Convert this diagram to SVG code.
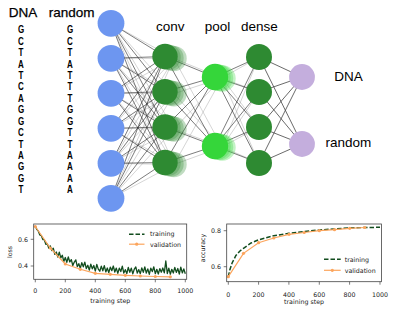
<svg xmlns="http://www.w3.org/2000/svg" width="394" height="315" viewBox="0 0 394 315">
<style>
.lbl{font-family:"Liberation Sans",Arial,sans-serif;font-size:13.5px;fill:#000}
.seq{font-family:"Liberation Sans",Arial,sans-serif;font-size:10px;font-weight:bold;fill:#000;text-anchor:middle}
.tk{font-family:"DejaVu Sans",sans-serif;font-size:6.3px;fill:#222}
.e1{stroke:#222;stroke-width:0.7;stroke-opacity:0.85}
.e2{stroke:#999;stroke-width:0.7;stroke-opacity:0.6}
.e3{stroke:#444;stroke-width:0.8}
.inp{fill:#6d96f0}
.cv{fill:#2e8a32}
.pl{fill:#35d63a}
.out{fill:#c4aedd}
.gh{fill-opacity:0.3}
.frame{fill:none;stroke:#444;stroke-width:0.8}
.tick{stroke:#444;stroke-width:0.7}
.tr{fill:none;stroke:#124d1e;stroke-width:1.3;stroke-linejoin:round}
.trd{fill:none;stroke:#124d1e;stroke-width:1.5;stroke-dasharray:4.5,2}
.va{fill:none;stroke:#fca55d;stroke-width:1.2}
.mk{fill:#fca55d}
</style>
<rect width="394" height="315" fill="#fff"/>

<g id="connectors">
<g class="e2">
<line x1="111" y1="23.3" x2="174" y2="58.5"/><line x1="111" y1="23.3" x2="174" y2="93.7"/><line x1="111" y1="23.3" x2="174" y2="129"/><line x1="111" y1="23.3" x2="174" y2="164.5"/>
<line x1="111" y1="58.3" x2="174" y2="58.5"/><line x1="111" y1="58.3" x2="174" y2="93.7"/><line x1="111" y1="58.3" x2="174" y2="129"/><line x1="111" y1="58.3" x2="174" y2="164.5"/>
<line x1="111" y1="93.3" x2="174" y2="58.5"/><line x1="111" y1="93.3" x2="174" y2="93.7"/><line x1="111" y1="93.3" x2="174" y2="129"/><line x1="111" y1="93.3" x2="174" y2="164.5"/>
<line x1="111" y1="128.3" x2="174" y2="58.5"/><line x1="111" y1="128.3" x2="174" y2="93.7"/><line x1="111" y1="128.3" x2="174" y2="129"/><line x1="111" y1="128.3" x2="174" y2="164.5"/>
<line x1="111" y1="163.3" x2="174" y2="58.5"/><line x1="111" y1="163.3" x2="174" y2="93.7"/><line x1="111" y1="163.3" x2="174" y2="129"/><line x1="111" y1="163.3" x2="174" y2="164.5"/>
<line x1="111" y1="198.3" x2="174" y2="58.5"/><line x1="111" y1="198.3" x2="174" y2="93.7"/><line x1="111" y1="198.3" x2="174" y2="129"/><line x1="111" y1="198.3" x2="174" y2="164.5"/>
<line x1="174" y1="58.5" x2="222" y2="78"/><line x1="174" y1="58.5" x2="222" y2="147"/>
<line x1="174" y1="93.7" x2="222" y2="78"/><line x1="174" y1="93.7" x2="222" y2="147"/>
<line x1="174" y1="129" x2="222" y2="78"/><line x1="174" y1="129" x2="222" y2="147"/>
<line x1="174" y1="164.5" x2="222" y2="78"/><line x1="174" y1="164.5" x2="222" y2="147"/>
<line x1="222" y1="78" x2="259" y2="57"/><line x1="222" y1="78" x2="259" y2="92"/><line x1="222" y1="78" x2="259" y2="127"/><line x1="222" y1="78" x2="259" y2="163"/>
<line x1="222" y1="147" x2="259" y2="57"/><line x1="222" y1="147" x2="259" y2="92"/><line x1="222" y1="147" x2="259" y2="127"/><line x1="222" y1="147" x2="259" y2="163"/>
</g>
<g class="e1">
<line x1="111" y1="23.3" x2="165" y2="56.5"/><line x1="111" y1="23.3" x2="165" y2="91.7"/><line x1="111" y1="23.3" x2="165" y2="127"/><line x1="111" y1="23.3" x2="165" y2="162.5"/>
<line x1="111" y1="58.3" x2="165" y2="56.5"/><line x1="111" y1="58.3" x2="165" y2="91.7"/><line x1="111" y1="58.3" x2="165" y2="127"/><line x1="111" y1="58.3" x2="165" y2="162.5"/>
<line x1="111" y1="93.3" x2="165" y2="56.5"/><line x1="111" y1="93.3" x2="165" y2="91.7"/><line x1="111" y1="93.3" x2="165" y2="127"/><line x1="111" y1="93.3" x2="165" y2="162.5"/>
<line x1="111" y1="128.3" x2="165" y2="56.5"/><line x1="111" y1="128.3" x2="165" y2="91.7"/><line x1="111" y1="128.3" x2="165" y2="127"/><line x1="111" y1="128.3" x2="165" y2="162.5"/>
<line x1="111" y1="163.3" x2="165" y2="56.5"/><line x1="111" y1="163.3" x2="165" y2="91.7"/><line x1="111" y1="163.3" x2="165" y2="127"/><line x1="111" y1="163.3" x2="165" y2="162.5"/>
<line x1="111" y1="198.3" x2="165" y2="56.5"/><line x1="111" y1="198.3" x2="165" y2="91.7"/><line x1="111" y1="198.3" x2="165" y2="127"/><line x1="111" y1="198.3" x2="165" y2="162.5"/>
<line x1="165" y1="56.5" x2="215" y2="77"/><line x1="165" y1="56.5" x2="215" y2="146"/>
<line x1="165" y1="91.7" x2="215" y2="77"/><line x1="165" y1="91.7" x2="215" y2="146"/>
<line x1="165" y1="127" x2="215" y2="77"/><line x1="165" y1="127" x2="215" y2="146"/>
<line x1="165" y1="162.5" x2="215" y2="77"/><line x1="165" y1="162.5" x2="215" y2="146"/>
<line x1="215" y1="77" x2="259" y2="57"/><line x1="215" y1="77" x2="259" y2="92"/><line x1="215" y1="77" x2="259" y2="127"/><line x1="215" y1="77" x2="259" y2="163"/>
<line x1="215" y1="146" x2="259" y2="57"/><line x1="215" y1="146" x2="259" y2="92"/><line x1="215" y1="146" x2="259" y2="127"/><line x1="215" y1="146" x2="259" y2="163"/>
</g>
<g class="e3">
<line x1="259" y1="57" x2="302" y2="77"/><line x1="259" y1="57" x2="302" y2="144"/>
<line x1="259" y1="92" x2="302" y2="77"/><line x1="259" y1="92" x2="302" y2="144"/>
<line x1="259" y1="127" x2="302" y2="77"/><line x1="259" y1="127" x2="302" y2="144"/>
<line x1="259" y1="163" x2="302" y2="77"/><line x1="259" y1="163" x2="302" y2="144"/>
</g>
</g>

<g id="input-layer">
<circle class="inp" cx="111" cy="23.3" r="13.4"/>
<circle class="inp" cx="111" cy="58.3" r="13.4"/>
<circle class="inp" cx="111" cy="93.3" r="13.4"/>
<circle class="inp" cx="111" cy="128.3" r="13.4"/>
<circle class="inp" cx="111" cy="163.3" r="13.4"/>
<circle class="inp" cx="111" cy="198.3" r="13.4"/>
</g>

<g id="conv-layer">
<g class="cv gh">
<circle cx="174" cy="58.6" r="12.7"/><circle cx="171" cy="57.9" r="12.7"/><circle cx="168" cy="57.2" r="12.7"/>
<circle cx="174" cy="93.8" r="12.7"/><circle cx="171" cy="93.1" r="12.7"/><circle cx="168" cy="92.4" r="12.7"/>
<circle cx="174" cy="129.1" r="12.7"/><circle cx="171" cy="128.4" r="12.7"/><circle cx="168" cy="127.7" r="12.7"/>
<circle cx="174" cy="164.6" r="12.7"/><circle cx="171" cy="163.9" r="12.7"/><circle cx="168" cy="163.2" r="12.7"/>
</g>
<circle class="cv" cx="165" cy="56.5" r="12.7"/>
<circle class="cv" cx="165" cy="91.7" r="12.7"/>
<circle class="cv" cx="165" cy="127" r="12.7"/>
<circle class="cv" cx="165" cy="162.5" r="12.7"/>
</g>

<g id="pool-layer">
<g class="pl gh">
<circle cx="222.5" cy="78.5" r="13.2"/><circle cx="220" cy="78" r="13.2"/><circle cx="217.5" cy="77.5" r="13.2"/>
<circle cx="222.5" cy="147.5" r="13.2"/><circle cx="220" cy="147" r="13.2"/><circle cx="217.5" cy="146.5" r="13.2"/>
</g>
<circle class="pl" cx="215" cy="77" r="13.2"/>
<circle class="pl" cx="215" cy="146" r="13.2"/>
</g>

<g id="dense-layer">
<circle class="cv" cx="259" cy="57" r="13"/>
<circle class="cv" cx="259" cy="92" r="13"/>
<circle class="cv" cx="259" cy="127" r="13"/>
<circle class="cv" cx="259" cy="163" r="13"/>
</g>

<g id="output-layer">
<circle class="out" cx="302" cy="77" r="12.9"/>
<circle class="out" cx="302" cy="144" r="12.9"/>
</g>

<g id="labels">
<text class="lbl" x="170.3" y="30.7" text-anchor="middle">conv</text>
<text class="lbl" x="217.5" y="30.7" text-anchor="middle">pool</text>
<text class="lbl" x="259.3" y="30.7" text-anchor="middle">dense</text>
<text class="lbl" x="348.5" y="81" text-anchor="middle">DNA</text>
<text class="lbl" x="348.3" y="146.7" text-anchor="middle">random</text>
<text class="lbl" x="23" y="17.3" text-anchor="middle" stroke="#000" stroke-width="0.25">DNA</text>
<text class="lbl" x="71.7" y="17.3" text-anchor="middle" stroke="#000" stroke-width="0.25">random</text>
</g>

<g id="sequence-dna" transform="scale(0.8,1)">
<text class="seq" x="26.25" y="33.3">G</text>
<text class="seq" x="26.25" y="44.7">C</text>
<text class="seq" x="26.25" y="56.2">T</text>
<text class="seq" x="26.25" y="67.6">A</text>
<text class="seq" x="26.25" y="79">T</text>
<text class="seq" x="26.25" y="90.5">C</text>
<text class="seq" x="26.25" y="101.9">A</text>
<text class="seq" x="26.25" y="113.3">G</text>
<text class="seq" x="26.25" y="124.7">G</text>
<text class="seq" x="26.25" y="136.2">C</text>
<text class="seq" x="26.25" y="147.6">T</text>
<text class="seq" x="26.25" y="159">A</text>
<text class="seq" x="26.25" y="170.5">G</text>
<text class="seq" x="26.25" y="181.9">G</text>
<text class="seq" x="26.25" y="193.3">T</text>
</g>
<g id="sequence-random" transform="scale(0.8,1)">
<text class="seq" x="87.5" y="33.3">G</text>
<text class="seq" x="87.5" y="44.7">C</text>
<text class="seq" x="87.5" y="56.2">T</text>
<text class="seq" x="87.5" y="67.6">A</text>
<text class="seq" x="87.5" y="79">T</text>
<text class="seq" x="87.5" y="90.5">T</text>
<text class="seq" x="87.5" y="101.9">T</text>
<text class="seq" x="87.5" y="113.3">G</text>
<text class="seq" x="87.5" y="124.7">G</text>
<text class="seq" x="87.5" y="136.2">T</text>
<text class="seq" x="87.5" y="147.6">T</text>
<text class="seq" x="87.5" y="159">A</text>
<text class="seq" x="87.5" y="170.5">A</text>
<text class="seq" x="87.5" y="181.9">A</text>
<text class="seq" x="87.5" y="193.3">A</text>
</g>

<g id="loss-chart">
<polyline class="tr" points="35.3,226 36.8,229.4 38.3,231.1 39.8,235 41.3,235.6 42.8,239.5 44.3,239.7 45.8,244.4 47.3,243.9 48.8,248.2 50.3,245.9 51.8,250.6 53.3,248.2 54.8,254.3 56.3,252 57.8,257.1 59.3,252.2 60.8,257.9 62.3,255.2 63.8,261.5 65.3,257.5 66.8,262.3 68.3,257 69.8,262 71.3,259.6 72.8,265.5 74.3,262.1 75.8,259.9 77.3,266.7 78.8,263.7 80.3,268.3 81.8,262.6 83.3,266.8 84.8,262.1 86.3,268.6 87.8,265.3 89.3,270.1 90.8,264.1 92.3,268.8 93.8,265.5 95.3,271.2 96.8,264.4 98.3,269.1 99.8,271.2 101.3,266.1 102.8,270.8 104.3,265.6 105.8,271.9 107.3,268 108.8,272.7 110.3,267.1 111.8,270.7 113.3,266 114.8,272 116.3,268.1 117.8,273.4 119.3,268.1 120.8,271.6 122.3,266.1 123.8,273 125.3,269.7 126.8,273.5 128.3,267.5 129.8,272.3 131.3,268.1 132.8,273.9 134.3,269.1 135.8,267 137.3,273.1 138.8,269.6 140.3,273.7 141.8,267.9 143.3,272.3 144.8,266.9 146.3,273 147.8,268.9 149.3,274.4 150.8,268.2 152.3,271.6 153.8,266.8 155.3,273.7 156.8,269.3 158.3,274 159.8,268.6 161.3,272.2 162.8,268 164.3,272.9 165.8,261 167.3,273.5 168.8,268.1 170.3,274.2 171.8,269.3 173.3,273 174.8,267.4 176.3,272.4 177.8,268.5 179.3,274.1 180.8,267.1 182.3,272.9 183.8,268.9 185.3,273.8"/>
<polyline class="va" points="35.3,226.5 50.3,248 65.3,264 80.3,269.3 95.3,273.3 110.3,274.3 125.3,275.3 140.3,276 155.3,276.5 170.3,276.8"/>
<g class="mk">
<circle cx="35.3" cy="226.5" r="1.6"/><circle cx="50.3" cy="248" r="1.6"/><circle cx="65.3" cy="264" r="1.6"/><circle cx="80.3" cy="269.3" r="1.6"/><circle cx="95.3" cy="273.3" r="1.6"/><circle cx="110.3" cy="274.3" r="1.6"/><circle cx="125.3" cy="275.3" r="1.6"/><circle cx="140.3" cy="276" r="1.6"/><circle cx="155.3" cy="276.5" r="1.6"/><circle cx="170.3" cy="276.8" r="1.6"/>
</g>
<rect class="frame" x="33.7" y="224" width="153" height="55.3"/>
<g class="tick">
<line x1="33.7" y1="239.3" x2="30.7" y2="239.3"/><line x1="33.7" y1="266" x2="30.7" y2="266"/>
<line x1="35.3" y1="279.3" x2="35.3" y2="282.3"/><line x1="65.3" y1="279.3" x2="65.3" y2="282.3"/><line x1="95.3" y1="279.3" x2="95.3" y2="282.3"/><line x1="125.3" y1="279.3" x2="125.3" y2="282.3"/><line x1="155.3" y1="279.3" x2="155.3" y2="282.3"/><line x1="185.3" y1="279.3" x2="185.3" y2="282.3"/>
</g>
<text class="tk" x="28" y="241.6" text-anchor="end">0.6</text>
<text class="tk" x="28" y="268.3" text-anchor="end">0.4</text>
<g text-anchor="middle">
<text class="tk" x="35.3" y="292.8">0</text>
<text class="tk" x="65.3" y="292.8">200</text>
<text class="tk" x="95.3" y="292.8">400</text>
<text class="tk" x="125.3" y="292.8">600</text>
<text class="tk" x="155.3" y="292.8">800</text>
<text class="tk" x="185.3" y="292.8">1000</text>
<text class="tk" x="110.3" y="303">training step</text>
<text class="tk" x="0" y="0" transform="translate(12.3,252) rotate(-90)">loss</text>
</g>
<line class="trd" x1="129" y1="234.2" x2="144.5" y2="234.2"/>
<text class="tk" x="150" y="236.4">training</text>
<line class="va" x1="129" y1="244.2" x2="144.5" y2="244.2"/>
<circle class="mk" cx="136.7" cy="244.2" r="1.6"/>
<text class="tk" x="150" y="246.6">validation</text>
</g>

<g id="accuracy-chart">
<path class="trd" d="M228.3,276.7 L229.8,270 L232.1,263 L235.9,255.5 L239.7,251.2 L243.5,248.3 L251.1,243 L258.6,239.8 L273.8,235.7 L289,233.3 L304.2,231.5 L319.3,230 L334.5,228.9 L349.7,228 L364.8,227.5 L380,227.3"/>
<polyline class="va" points="228.3,276.7 243.5,253.3 258.6,242.7 273.8,238 289,234.3 304.2,232.5 319.3,230.7 334.5,229.7 349.7,228.3 364.8,227.5"/>
<g class="mk">
<circle cx="228.3" cy="276.7" r="1.6"/><circle cx="243.5" cy="253.3" r="1.6"/><circle cx="258.6" cy="242.7" r="1.6"/><circle cx="273.8" cy="238" r="1.6"/><circle cx="289" cy="234.3" r="1.6"/><circle cx="304.2" cy="232.5" r="1.6"/><circle cx="319.3" cy="230.7" r="1.6"/><circle cx="334.5" cy="229.7" r="1.6"/><circle cx="349.7" cy="228.3" r="1.6"/><circle cx="364.8" cy="227.5" r="1.6"/>
</g>
<rect class="frame" x="226.7" y="224" width="154.9" height="57.7"/>
<g class="tick">
<line x1="226.7" y1="230.7" x2="223.7" y2="230.7"/><line x1="226.7" y1="266.7" x2="223.7" y2="266.7"/>
<line x1="228.3" y1="281.7" x2="228.3" y2="284.7"/><line x1="258.6" y1="281.7" x2="258.6" y2="284.7"/><line x1="288.9" y1="281.7" x2="288.9" y2="284.7"/><line x1="319.3" y1="281.7" x2="319.3" y2="284.7"/><line x1="349.6" y1="281.7" x2="349.6" y2="284.7"/><line x1="380" y1="281.7" x2="380" y2="284.7"/>
</g>
<text class="tk" x="221" y="233" text-anchor="end">0.8</text>
<text class="tk" x="221" y="269" text-anchor="end">0.6</text>
<g text-anchor="middle">
<text class="tk" x="228.3" y="296.5">0</text>
<text class="tk" x="258.6" y="296.5">200</text>
<text class="tk" x="288.9" y="296.5">400</text>
<text class="tk" x="319.3" y="296.5">600</text>
<text class="tk" x="349.6" y="296.5">800</text>
<text class="tk" x="380" y="296.5">1000</text>
<text class="tk" x="304" y="304">training step</text>
<text class="tk" x="0" y="0" transform="translate(204.6,248) rotate(-90)">accuracy</text>
</g>
<line class="trd" x1="324" y1="259.3" x2="340.7" y2="259.3"/>
<text class="tk" x="344.7" y="261.5">training</text>
<line class="va" x1="324" y1="270.3" x2="340.7" y2="270.3"/>
<circle class="mk" cx="332.3" cy="270.3" r="1.6"/>
<text class="tk" x="344.7" y="272.7">validation</text>
</g>
</svg>
